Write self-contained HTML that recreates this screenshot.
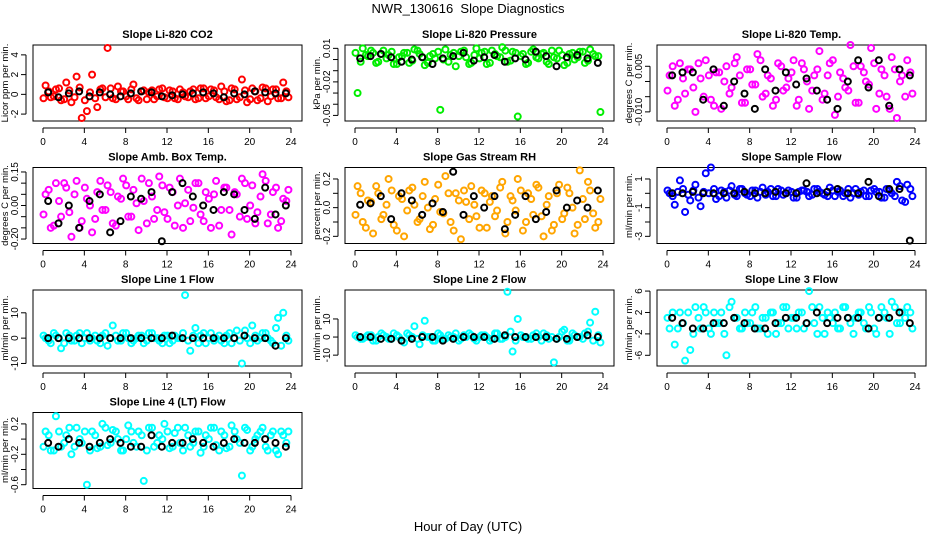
<!DOCTYPE html>
<html><head><meta charset="utf-8"><style>
body{margin:0;background:#fff;}
svg text{font-family:"Liberation Sans",sans-serif;}
</style></head><body>
<svg id="chart" width="936" height="540" viewBox="0 0 936 540" xmlns="http://www.w3.org/2000/svg">
<text x="468" y="13" text-anchor="middle" font-size="13">NWR_130616&#160; Slope Diagnostics</text>
<text x="468" y="531" text-anchor="middle" font-size="13">Hour of Day (UTC)</text>
</svg>
<script>
const xTicks=[0,4,8,12,16,20,24];
const titles=["Slope Li-820 CO2","Slope Li-820 Pressure","Slope Li-820 Temp.","Slope Amb. Box Temp.","Slope Gas Stream RH","Slope Sample Flow","Slope Line 1 Flow","Slope Line 2 Flow","Slope Line 3 Flow","Slope Line 4 (LT) Flow"];
const yLabels=["Licor ppm per min.","kPa per min.","degrees C per min.","degrees C per min.","percent per min.","ml/min per min.","ml/min per min.","ml/min per min.","ml/min per min.","ml/min per min."];
const colors=["#ff0000","#00ee00","#ff00ff","#ff00ff","#ffa500","#0000ff","#00ffff","#00ffff","#00ffff","#00ffff"];
const yRanges=[[-2.7,5],[-0.055,0.013],[-0.013,0.012],[-0.17,0.17],[-0.25,0.28],[-3.5,1.8],[-11,19],[-16,26],[-8,6.2],[-0.65,0.35]];
const yTicks=[[-2,0,2,4],[-0.05,-0.04,-0.03,-0.02,-0.01,0,0.01],[-0.01,-0.005,0,0.005],[-0.15,-0.1,-0.05,0,0.05,0.1,0.15],[-0.2,-0.1,0,0.1,0.2],[-3,-2,-1,0,1],[-10,0,10],[-10,0,10],[-6,-2,2,6],[-0.6,-0.4,-0.2,0,0.2]];
const yTickLabels=[["-2","0","2","4"],["-0.05","","","-0.02","","","0.01"],["-0.010","","","0.005"],["-0.20","","","0.00","","","0.15"],["-0.2","","0.0","","0.2"],["-3","","-1","","1"],["-10","0","10"],["-10","0","10"],["-6","-2","2","6"],["-0.6","","-0.2","","0.2"]];
const c0=[0.9,-0.3,0.5,-0.6,1.2,-0.8,1.8,-2.4,-1.7,2.0,-1.3,0.6,4.7,-0.4,0.8,0.3,-0.5,1.0,-0.6,0.4,0.2,-0.5,0.5,-0.3,0.4,-0.4,0.5,-0.2,0.3,-0.5,0.6,-0.4,0.5,-0.3,0.8,-0.7,0.6,-0.5,1.5,-0.8,0.6,-0.6,0.7,-0.7,0.5,-0.4,1.2,-0.3];
const d0=[-0.4,0.3,-0.2,0.6,-0.5,0.4,-0.3,0.7,-0.6,0.2,-0.4,0.5,-0.3,0.6,-0.5,0.3,-0.2,0.5,-0.4,0.3,-0.5,0.4,-0.2,0.6,-0.4,0.3,-0.5,0.2,-0.3,0.5,-0.4,0.6,-0.2,0.4,-0.5,0.3,-0.6,0.5,-0.3,0.4,-0.5,0.3,-0.4,0.6,-0.2,0.5,-0.4,0.3];
const b0=[0.2,-0.3,0.1,0.3,-0.2,0.2,0.0,-0.2,0.1,0.3,0.2,-0.2,-0.1,0.0,0.1,0.2,0.1,-0.3,0.1,0.0,0.3,0.2,0.1,0.1];
const c1=[-0.03,0.01,0.003,0.006,-0.002,0.008,0.004,-0.004,0.002,0.006,-0.003,0.009,0.005,-0.005,0.003,0.001,-0.045,0.009,0.004,-0.006,0.007,0.002,-0.003,0.010,0.006,-0.004,0.008,0.003,0.011,-0.002,0.007,-0.051,0.005,-0.003,0.009,0.001,0.006,-0.004,0.002,0.008,-0.005,0.005,0.000,0.007,-0.003,0.009,0.003,-0.047];
const d1=[0.006,-0.002,0.004,0.008,-0.003,0.005,0.001,0.007,-0.004,0.003,0.006,-0.001,0.008,0.002,-0.003,0.005,0.007,0.000,-0.002,0.006,0.003,0.008,-0.004,0.004,0.001,0.007,-0.003,0.005,0.002,0.008,-0.001,0.006,0.003,-0.004,0.007,0.002,0.005,-0.002,0.008,0.001,0.004,-0.003,0.006,0.002,0.007,-0.001,0.005,0.003];
const b1=[0.001,0.003,0.005,0.002,-0.002,0.0,0.002,-0.004,0.001,0.003,0.006,-0.001,0.002,0.004,-0.002,0.001,0.0,0.007,0.003,-0.006,0.002,0.004,0.001,-0.003];
const c2=[0.002,-0.008,0.006,-0.004,0.004,-0.01,0.001,0.007,-0.006,0.003,-0.009,0.005,-0.002,0.008,-0.007,0.004,-0.001,0.009,-0.005,0.002,-0.008,0.006,-0.003,0.001,0.007,-0.006,0.004,-0.009,0.002,0.01,-0.004,0.006,-0.011,0.003,-0.002,0.012,-0.007,0.005,0.0,0.011,-0.009,0.004,-0.005,0.008,-0.012,0.002,0.007,-0.004];
const d2=[-0.003,0.005,-0.006,0.001,0.004,-0.002,0.006,-0.005,0.002,-0.008,0.003,0.0,-0.004,0.006,0.002,-0.007,0.004,-0.001,0.007,-0.004,0.001,-0.006,0.005,-0.002,0.003,-0.008,0.006,0.0,-0.003,0.004,-0.006,0.002,0.007,-0.005,0.001,-0.003,0.005,-0.007,0.003,-0.001,0.006,-0.004,0.002,-0.009,0.004,0.0,-0.005,0.003];
const b2=[0.002,0.003,0.003,-0.006,0.004,-0.008,0.0,-0.004,-0.009,0.004,-0.003,0.003,-0.001,0.001,-0.003,-0.006,-0.009,0.0,0.007,-0.002,0.007,-0.008,0.004,0.002];
const c3=[0.05,-0.1,0.1,-0.05,0.08,-0.14,0.11,-0.07,0.03,-0.12,0.06,-0.02,0.09,-0.08,0.04,0.12,-0.05,0.07,-0.11,0.02,0.1,-0.06,0.13,-0.03,0.08,-0.09,0.12,0.01,-0.07,0.1,-0.04,0.06,-0.1,0.11,-0.02,0.08,-0.13,0.05,0.12,-0.06,0.09,-0.03,0.14,-0.08,0.06,-0.1,0.03,0.07];
const d3=[-0.04,0.07,-0.09,0.02,0.1,-0.03,0.05,-0.1,0.08,0.0,-0.06,0.11,-0.02,0.06,-0.09,0.03,0.09,-0.05,0.01,0.12,-0.08,0.04,-0.02,0.09,-0.06,0.06,0.0,-0.1,0.07,-0.01,0.1,-0.07,0.03,0.05,-0.09,0.08,-0.02,0.06,-0.05,0.1,0.0,-0.08,0.04,0.11,-0.04,0.08,-0.07,0.02];
const b3=[0.02,-0.08,0.0,-0.1,0.02,0.05,-0.12,-0.07,0.04,0.03,0.06,-0.16,0.06,0.1,0.04,0.0,-0.02,0.06,0.05,-0.02,-0.06,0.08,-0.04,0.0];
const c4=[0.15,-0.1,0.05,-0.18,0.1,-0.05,0.2,-0.12,0.08,-0.2,0.12,0.02,-0.08,0.18,-0.15,0.06,-0.03,0.22,-0.1,0.1,-0.22,0.04,0.15,-0.06,0.12,-0.14,0.08,-0.02,0.18,-0.1,0.05,0.2,-0.16,0.1,-0.05,0.14,-0.2,0.08,-0.12,0.16,-0.04,0.1,-0.18,0.26,-0.08,0.12,-0.14,0.06];
const d4=[-0.05,0.1,-0.14,0.04,0.15,-0.08,0.02,0.12,-0.16,0.06,-0.02,0.14,-0.1,0.08,0.0,-0.12,0.16,-0.04,0.1,-0.16,0.05,0.12,-0.08,0.02,-0.14,0.1,0.04,-0.06,0.14,-0.18,0.08,-0.02,0.12,-0.1,0.06,0.16,-0.06,0.02,-0.16,0.1,-0.08,0.14,0.0,-0.12,0.06,0.18,-0.04,-0.1];
const b4=[0.02,0.03,0.08,-0.08,0.1,0.05,-0.05,0.03,-0.03,0.25,-0.05,0.08,0.0,0.08,-0.15,-0.05,0.08,-0.08,-0.03,0.12,0.0,0.05,0.0,0.12];
const c5=[0.0,-0.8,0.9,-1.3,-0.5,0.6,-0.9,1.4,1.8,-0.4,0.2,-0.3,0.5,-0.2,0.3,-0.1,0.2,-0.3,0.4,0.1,-0.2,0.3,-0.1,0.2,-0.3,0.1,0.2,-0.2,0.3,0.1,-0.1,0.4,-0.2,0.2,0.0,-0.3,0.3,0.1,-0.2,0.2,0.1,-0.3,0.3,0.0,0.8,-0.5,0.6,-0.2];
const d5=[0.2,-0.2,0.1,0.3,-0.1,0.2,-0.3,0.1,0.0,0.3,-0.2,0.1,0.2,-0.1,0.3,0.0,-0.2,0.2,0.1,-0.1,0.3,-0.2,0.2,0.0,0.1,-0.3,0.2,0.1,-0.1,0.3,0.0,-0.2,0.2,0.1,-0.2,0.3,0.0,-0.1,0.2,-0.2,0.3,0.1,-0.3,0.2,-0.2,0.5,-0.6,0.3];
const b5=[0.0,0.0,0.1,0.0,0.0,0.0,0.0,0.1,0.0,0.0,0.1,0.0,0.0,0.7,0.0,0.1,0.3,0.0,0.0,0.8,-0.2,0.3,0.3,-3.3];
const c6=[0,-2,1,-4,2,-1,1,-2,2,0,-1,1,-3,5,-1,2,0,-1,1,-2,2,0,-1,1,-2,1,0,17,-5,4,1,-2,2,0,-1,1,-2,3,-10,0,5,-1,2,0,-2,8,10,-1];
const d6=[1,-1,2,0,-2,1,-1,2,0,-1,1,-2,2,0,1,-1,2,-2,0,1,-1,2,0,-2,1,-1,0,2,-1,1,-2,2,0,-1,1,-2,2,0,-1,3,-2,1,0,2,-1,4,-3,1];
const b6=[0,0,0,0,0,0,0,0,0,0,0,0,1,0,0,0,0,0,0,1,0,0,-3,0];
const c7=[0,-1,1,-2,0,1,-1,2,0,-3,1,6,-4,9,0,-2,1,-1,0,2,-1,0,1,-2,1,0,-1,2,-1,25,-8,10,0,-1,1,0,2,-1,-14,0,4,-2,1,0,2,8,14,-3];
const d7=[1,-1,0,1,-2,2,0,-1,1,-2,2,0,-1,1,0,-2,2,-1,1,0,-2,1,2,-1,0,1,-2,2,-1,0,3,-2,1,0,-1,2,-2,1,0,-1,3,-2,2,0,-1,3,-2,1];
const b7=[0,0,-1,-1,-2,-1,0,0,-2,-1,0,0,0,-1,1,0,0,0,0,-1,-1,0,1,0];
const c8=[-1,-4,2,-7,-5,3,-1,2,-2,0,2,-6,4,1,-1,0,2,-1,1,-2,2,0,3,-1,1,2,-1,6,0,3,-2,1,2,-1,3,0,1,2,-1,2,-2,3,1,4,0,2,3,-1];
const d8=[1,2,-1,0,2,-2,1,3,-1,2,0,-2,3,1,-1,2,0,3,-1,1,2,-2,0,3,1,-1,2,0,3,-2,1,2,0,-1,3,1,-2,2,0,3,-1,1,2,-2,3,0,1,2];
const b8=[1,0,-1,-1,0,0,1,0,-1,-1,0,1,1,0,2,0,1,1,1,-1,1,1,2,0];
const c9=[0.1,-0.15,0.3,-0.1,0.05,-0.2,0.15,-0.05,-0.6,0.1,-0.12,0.2,-0.08,0.12,0.0,-0.15,0.18,-0.05,0.1,-0.55,0.15,-0.1,0.05,0.2,-0.12,0.08,-0.05,0.15,-0.1,0.1,-0.18,0.05,0.15,-0.08,0.1,-0.12,0.18,0.0,-0.48,0.12,-0.1,0.05,0.15,-0.15,0.1,-0.2,0.05,0.1];
const d9=[-0.1,0.05,-0.15,0.1,-0.05,0.15,-0.1,0.0,0.1,-0.15,0.05,-0.1,0.15,-0.05,0.1,-0.15,0.0,0.1,-0.1,0.05,-0.15,0.15,-0.05,0.0,0.1,-0.1,0.15,-0.15,0.05,-0.05,0.1,-0.1,0.0,0.15,-0.15,0.05,-0.1,0.1,-0.05,0.15,-0.15,0.0,0.1,-0.1,0.05,-0.15,0.1,-0.05];
const b9=[-0.05,-0.1,0.0,-0.05,-0.1,-0.05,0.0,-0.05,-0.1,-0.1,0.05,-0.1,-0.05,-0.05,0.0,-0.05,-0.1,-0.05,0.0,-0.05,-0.05,0.0,-0.05,-0.1];
const colorSeries=[c0,c1,c2,c3,c4,c5,c6,c7,c8,c9];
const colorSeries2=[d0,d1,d2,d3,d4,d5,d6,d7,d8,d9];
const blackSeries=[b0,b1,b2,b3,b4,b5,b6,b7,b8,b9];

const NS="http://www.w3.org/2000/svg";
const svg=document.getElementById('chart');
function mk(tag,attrs,parent){const e=document.createElementNS(NS,tag);for(const k in attrs)e.setAttribute(k,attrs[k]);parent.appendChild(e);return e;}
for(let p=0;p<10;p++){
  const col=p%3,row=Math.floor(p/3);
  const L=33+col*312,R=L+269,T=45+row*122.5,B=T+76;
  const g=mk('g',{},svg);
  
  
  const xs=h=>L+10+h*(R-L-21)/24;
  const [y0,y1]=yRanges[p];
  const ys=v=>B-(v-y0)/(y1-y0)*(B-T);
  const t=mk('text',{x:(L+R)/2,y:T-7,'text-anchor':'middle','font-size':11,'font-weight':'bold'},g);t.textContent=titles[p];
  
  
  const box=mk('rect',{x:L,y:T,width:R-L,height:B-T,fill:'none',stroke:'#000','stroke-width':1},g);
  
  
  mk('line',{x1:xs(0),x2:xs(24),y1:B+7,y2:B+7,stroke:'#000'},g);
  xTicks.forEach(v=>{
    mk('line',{x1:xs(v),x2:xs(v),y1:B+7,y2:B+12,stroke:'#000'},g);
    const tx=mk('text',{x:xs(v),y:B+24,'text-anchor':'middle','font-size':10},g);tx.textContent=v;
    
    
  });
  const yt=yTicks[p];
  mk('line',{x1:L-7,x2:L-7,y1:ys(yt[0]),y2:ys(yt[yt.length-1]),stroke:'#000'},g);
  yt.forEach((v,i)=>{
    mk('line',{x1:L-12,x2:L-7,y1:ys(v),y2:ys(v),stroke:'#000'},g);
    const lab=yTickLabels[p][i];
    if(lab){const ty=mk('text',{x:L-15,y:ys(v),'text-anchor':'middle','font-size':10,transform:`rotate(-90 ${L-15} ${ys(v)})`},g);ty.textContent=lab;
    
    }
  });
  const yl=mk('text',{x:L-25,y:(T+B)/2,'text-anchor':'middle','font-size':9.5,transform:`rotate(-90 ${L-25} ${(T+B)/2})`},g);yl.textContent=yLabels[p];
  
  
  const cs=colorSeries[p],n=cs.length;
  cs.forEach((v,i)=>{
    const c=mk('circle',{cx:xs((i+0.5)*24/n),cy:ys(v),r:3,fill:'none',stroke:colors[p],'stroke-width':2},g);
    
    
  });
  const cs2=colorSeries2[p],n2=cs2.length;
  cs2.forEach((v,i)=>{
    const c=mk('circle',{cx:xs((i+0.1)*24/n2),cy:ys(v),r:3,fill:'none',stroke:colors[p],'stroke-width':2},g);
    
    
  });
  const bs=blackSeries[p],m=bs.length;
  bs.forEach((v,i)=>{
    const c=mk('circle',{cx:xs((i+0.5)*24/m),cy:ys(v),r:3,fill:'none',stroke:'#000','stroke-width':2},g);
    
    
  });
}
</script>
</body></html>
